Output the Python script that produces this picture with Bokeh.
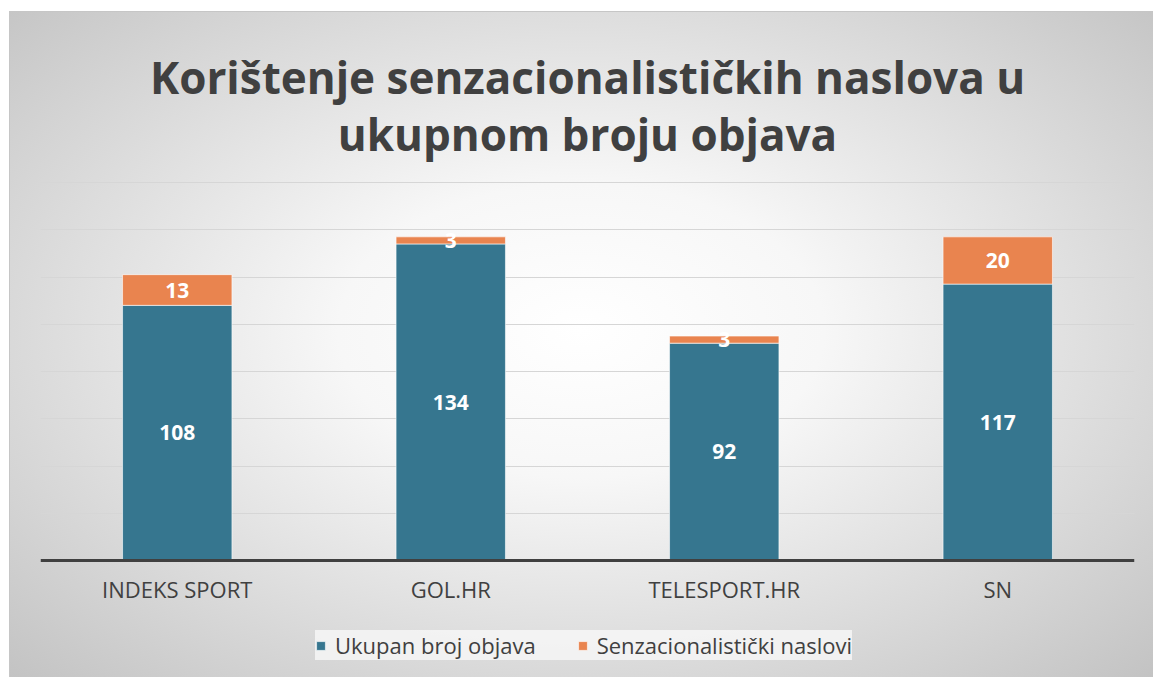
from bokeh.plotting import figure
from bokeh.models import (FactorRange, Range1d, Legend, LegendItem, Label,
                          ColumnDataSource, SingleIntervalTicker)
from bokeh.core.properties import value
from bokeh.embed import file_html
from bokeh.resources import INLINE

categories = ["INDEKS SPORT", "GOL.HR", "TELESPORT.HR", "SN"]
ukupan = [108, 134, 92, 117]
senzacionalisticki = [13, 3, 3, 20]
series_names = ["Ukupan broj objava", "Senzacionalistički naslovi"]
title_lines = ["Korištenje senzacionalističkih naslova u", "ukupnom broju objava"]

BLUE = "#36768F"
ORANGE = "#E9844F"
TXT = "#404040"
FONT = "Open Sans"

W, H = 1153, 677
BL, BR = 40, 19          # left / right borders (px)
FRAME_W = W - BL - BR

src = ColumnDataSource(dict(
    cat=categories,
    uk=ukupan,
    sz=senzacionalisticki,
    m1=[u / 2 for u in ukupan],
    m2=[u + s / 2 for u, s in zip(ukupan, senzacionalisticki)],
    t1=[str(u) for u in ukupan],
    t2=[str(s) for s in senzacionalisticki],
))

# frame covers the full height; value axis 0..160 spans pixels 560..182
p = figure(x_range=FactorRange(*categories, range_padding=0),
           y_range=Range1d(-49.52, 237.04),
           width=W, height=H, output_backend="svg", toolbar_location=None,
           title_location=None,
           min_border_left=BL, min_border_right=BR,
           min_border_top=0, min_border_bottom=0)

p.border_fill_color = None
p.background_fill_color = None
p.outline_line_color = None
p.styles = {
    "background": (
        "linear-gradient(#c6c6c6,#c6c6c6) 9px 11px / 1144px 1px no-repeat, "
        "linear-gradient(#c6c6c6,#c6c6c6) 9px 11px / 1px 666px no-repeat, "
        "radial-gradient(ellipse farthest-corner at 50% 48%, #ffffff 0%, #f7f7f7 30%, #c3c3c3 100%) "
        "9px 11px / 1144px 666px no-repeat, #ffffff"
    ),
}

renderers = p.vbar_stack(["uk", "sz"], x="cat", width=0.4, color=[BLUE, ORANGE],
                         line_color="white", line_alpha=0.6, line_width=1, source=src)

for yf, tf in (("m1", "t1"), ("m2", "t2")):
    p.text(x="cat", y=yf, text=tf, source=src, text_align="center",
           text_baseline="middle", text_color="white", text_font=value(FONT),
           text_font_size="21px", text_font_style="bold")

p.yaxis.visible = False
p.xgrid.visible = False
p.ygrid.ticker = SingleIntervalTicker(interval=20, num_minor_ticks=0)
p.ygrid.bounds = (0, 160)
p.ygrid.grid_line_color = "#d6d6d6"
p.ygrid.grid_line_width = 1

ax = p.xaxis[0]
ax.fixed_location = 0
ax.axis_line_color = TXT
ax.axis_line_width = 3
ax.major_tick_line_color = None
ax.minor_tick_line_color = None
ax.major_label_standoff = 7
ax.major_label_text_font = FONT
ax.major_label_text_font_size = "22px"
ax.major_label_text_color = TXT

for txt, ys in zip(title_lines, (601, 544)):
    p.add_layout(Label(x=FRAME_W / 2, y=ys, x_units="screen", y_units="screen",
                       text=txt, text_align="center", text_baseline="alphabetic",
                       text_font=FONT, text_font_size="44px", text_font_style="bold",
                       text_color=TXT))

legend = Legend(items=[LegendItem(label=series_names[0], renderers=[renderers[0]]),
                       LegendItem(label=series_names[1], renderers=[renderers[1]])],
                orientation="horizontal", location=(275, 17),
                glyph_width=11, glyph_height=11, label_standoff=9, spacing=41,
                padding=16, margin=0,
                label_text_font=FONT, label_text_font_size="22px", label_text_color=TXT,
                background_fill_color="#f7f7f7", background_fill_alpha=0.8,
                border_line_color=None)
p.add_layout(legend)

open("out.html", "w").write(file_html(p, INLINE))
